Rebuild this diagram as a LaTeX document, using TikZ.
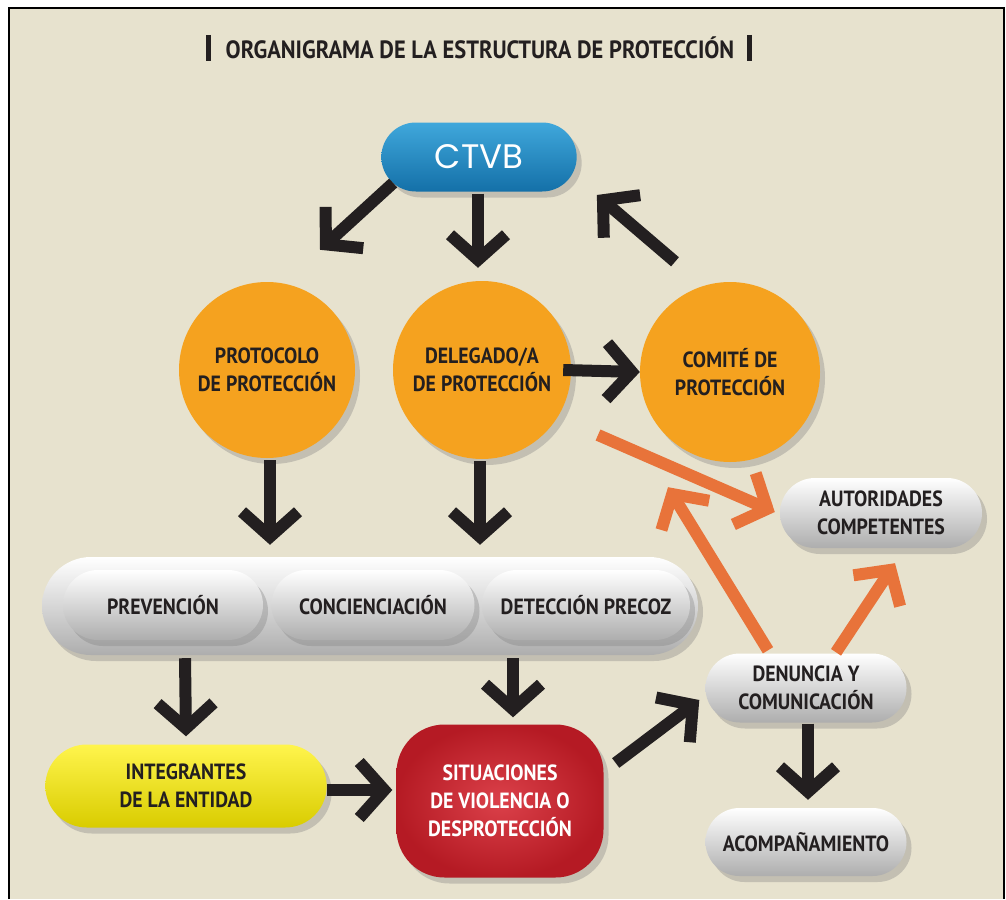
\documentclass[tikz,border=0pt]{standalone}
\usepackage{fontspec}
\setmainfont{PT Sans}[FakeStretch=0.9]
\newfontfamily\ctvbfont{Poppins}
\usetikzlibrary{arrows.meta,shapes.misc,shadows}
\definecolor{fondo}{HTML}{E7E2CE}
\definecolor{tinta}{HTML}{231F20}
\definecolor{azul}{HTML}{1E98D5}
\definecolor{azuloscuro}{HTML}{1470A8}
\definecolor{naranja}{HTML}{F5A21F}
\definecolor{teja}{HTML}{E8733A}
\definecolor{amarillo}{HTML}{FFF000}
\definecolor{rojo}{HTML}{D51F2A}
\tikzset{
  sombra/.style={drop shadow={shadow xshift=5pt,shadow yshift=-6pt,opacity=.35}},
  etiqueta/.style={font=\bfseries\fontsize{22}{28}\selectfont, text=tinta, align=center},
  pastilla/.style={rounded rectangle, sombra, etiqueta, inner sep=0pt,
    top color=white, middle color=white, bottom color=black!32},
  circulo/.style={circle, sombra, etiqueta, inner sep=0pt, fill=naranja, minimum size=#1},
  flecha/.style={line width=12pt, draw=tinta, -{Straight Barb[length=25pt,width=56pt]}},
  flechateja/.style={flecha, draw=teja}
}
\begin{document}
\begin{tikzpicture}[x=1pt,y=-1pt]
  \useasboundingbox (0,0) rectangle (1006,899);
  \fill[white] (0,0) rectangle (1006,899);
  \fill[fondo] (9,8) rectangle (1004,899);
  \draw[line width=2pt] (9,899) -- (9,8) -- (1004,8) -- (1004,899);

  % titulo
  \node[font=\bfseries\fontsize{25}{28}\selectfont, text=tinta] (titulo) at (480,48)
    {ORGANIGRAMA DE LA ESTRUCTURA DE PROTECCIÓN};
  \draw[line width=5pt, tinta] ([shift={(-14,-13)}]titulo.west) -- ([shift={(-14,13)}]titulo.west);
  \draw[line width=5pt, tinta] ([shift={(12,-13)}]titulo.east) -- ([shift={(12,13)}]titulo.east);

  % nodos
  \node[rounded rectangle, sombra, minimum width=202pt, minimum height=69pt,
    top color=azul!85!white, bottom color=azuloscuro, text=white,
    font=\ctvbfont\fontsize{34}{36}\selectfont] (ctvb) at (479,157) {CTVB};
  \node[circulo=176pt] (proto) at (267,370) {PROTOCOLO\\DE PROTECCIÓN};
  \node[circulo=178pt] (deleg) at (482,370) {DELEGADO/A\\DE PROTECCIÓN};
  \node[circulo=180pt] (comite) at (730,372) {COMITÉ DE\\PROTECCIÓN};

  \node[pastilla, minimum width=656pt, minimum height=98pt] (ejes) at (370,606) {};
  \node[pastilla, minimum width=200pt, minimum height=70pt] (prev) at (163,605) {PREVENCIÓN};
  \node[pastilla, minimum width=203pt, minimum height=70pt] (conc) at (373,605) {CONCIENCIACIÓN};
  \node[pastilla, minimum width=208pt, minimum height=70pt] (detec) at (586,605) {DETECCIÓN PRECOZ};

  \node[pastilla, minimum width=202pt, minimum height=70pt] (auto) at (881,513) {AUTORIDADES\\COMPETENTES};
  \node[pastilla, minimum width=201pt, minimum height=69pt] (denun) at (806,688) {DENUNCIA Y\\COMUNICACIÓN};
  \node[pastilla, minimum width=201pt, minimum height=68pt] (acomp) at (806,842) {ACOMPAÑAMIENTO};

  \node[rounded rectangle, sombra, etiqueta, minimum width=288pt, minimum height=83pt,
    top color=amarillo!70!white, middle color=amarillo, bottom color=amarillo!85!black] (integ) at (186,786)
    {INTEGRANTES\\DE LA ENTIDAD};
  \node[rectangle, rounded corners=48pt, sombra, etiqueta, text=white,
    minimum width=207pt, minimum height=153pt, inner color=rojo!85!white, outer color=rojo!85!black] (situ) at (500,801)
    {SITUACIONES\\DE VIOLENCIA O\\DESPROTECCIÓN};

  % flechas negras
  \draw[flecha] ([shift={(12,26)}]ctvb.west) -- ([shift={(53,-32)}]proto.north);
  \draw[flecha] ([shift={(-1,2)}]ctvb.south) -- ([shift={(-4,-13)}]deleg.north);
  \draw[flecha] ([shift={(-55,-20)}]comite.north) -- ([shift={(20,38)}]ctvb.east);
  \draw[flecha] ([shift={(3,2)}]proto.south) -- ([shift={(-100,-12)}]ejes.north);
  \draw[flecha] ([shift={(-2,2)}]deleg.south) -- ([shift={(110,-12)}]ejes.north);
  \draw[flecha] ([shift={(-8,0)}]deleg.east) -- (comite.west);
  \draw[flecha] ([shift={(-185,3)}]ejes.south) -- ([shift={(0,-8)}]integ.north);
  \draw[flecha] ([shift={(143,3)}]ejes.south) -- ([shift={(13,-7)}]situ.north);
  \draw[flecha] ([shift={(0,4)}]integ.east) -- ([shift={(-4,-11)}]situ.west);
  \draw[flecha] ([shift={(12,-38)}]situ.east) -- ([shift={(-6,12)}]denun.west);
  \draw[flecha] ([shift={(2,1)}]denun.south) -- ([shift={(2,-8)}]acomp.north);

  % flechas naranjas
  \draw[flechateja] ([shift={(116,65)}]deleg.center) -- ([shift={(-5,-1)}]auto.west);
  \draw[flechateja] ([shift={(30,-1)}]denun.north) -- ([shift={(14,15)}]auto.south);
  \draw[flechateja] ([shift={(-38,-3)}]denun.north) -- ([shift={(-62,25)}]comite.south);
\end{tikzpicture}
\end{document}
